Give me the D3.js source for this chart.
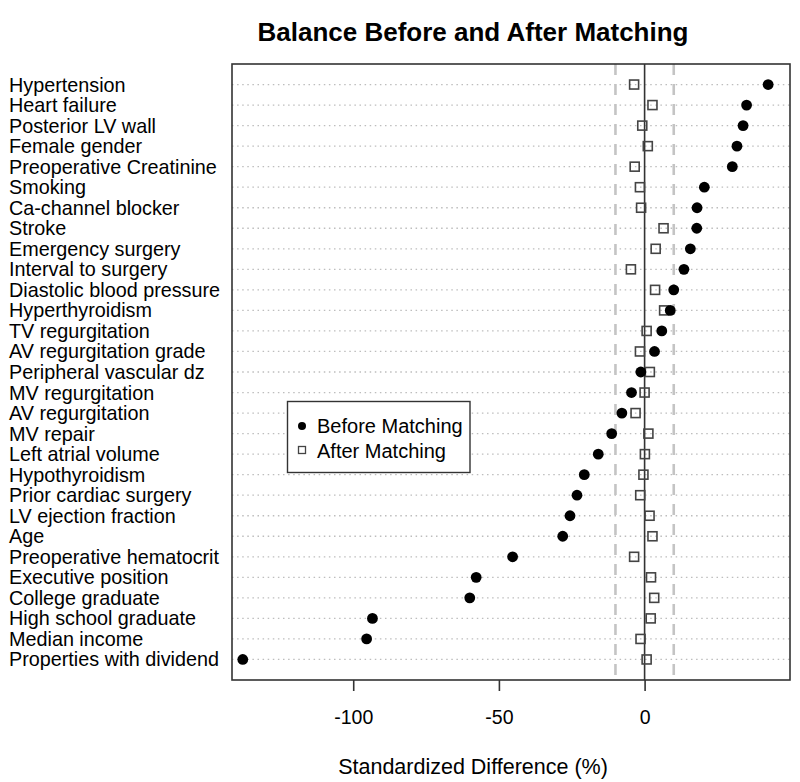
<!DOCTYPE html>
<html>
<head>
<meta charset="utf-8">
<script src="https://cdn.jsdelivr.net/npm/d3@7"></script>
<style>
  html, body { margin: 0; padding: 0; background: #fff; }
  svg { display: block; font-family: "Liberation Sans", Arial, Helvetica, sans-serif; }
</style>
</head>
<body>
<svg id="chart" width="800" height="782"></svg>
<script>
const title = "Balance Before and After Matching";
const xLabel = "Standardized Difference (%)";
const categories = [
  "Hypertension", "Heart failure", "Posterior LV wall", "Female gender",
  "Preoperative Creatinine", "Smoking", "Ca-channel blocker", "Stroke",
  "Emergency surgery", "Interval to surgery", "Diastolic blood pressure",
  "Hyperthyroidism", "TV regurgitation", "AV regurgitation grade",
  "Peripheral vascular dz", "MV regurgitation", "AV regurgitation", "MV repair",
  "Left atrial volume", "Hypothyroidism", "Prior cardiac surgery",
  "LV ejection fraction", "Age", "Preoperative hematocrit", "Executive position",
  "College graduate", "High school graduate", "Median income",
  "Properties with dividend"
];
const beforeMatching = [
  42.4, 35.0, 33.8, 31.7, 30.1, 20.5, 18.0, 17.9, 15.7, 13.5, 10.0, 8.8, 5.9, 3.4,
  -1.3, -4.5, -7.8, -11.3, -15.9, -20.7, -23.2, -25.6, -28.1, -45.3, -57.8, -60.0,
  -93.4, -95.4, -137.9
];
const afterMatching = [
  -3.6, 2.7, -0.8, 1.1, -3.4, -1.6, -1.2, 6.5, 3.8, -4.7, 3.6, 6.7, 0.7, -1.6,
  1.8, 0.0, -3.1, 1.3, 0.1, -0.4, -1.5, 1.7, 2.7, -3.6, 2.2, 3.3, 2.1, -1.4, 0.7
];
const xTicks = [-100, -50, 0];
const thresholds = [-10, 10];
const seriesNames = ["Before Matching", "After Matching"];

const svg = d3.select("#chart");
const box = { left: 232, right: 790, top: 64, bottom: 680 };

const x = d3.scaleLinear().domain([-141.6, 49.9]).range([box.left, box.right]);
const y = d3.scaleLinear().domain([-1, categories.length]).range([box.top, box.bottom]);

// Title
svg.append("text")
  .attr("x", 473).attr("y", 41)
  .attr("text-anchor", "middle")
  .attr("font-size", 26).attr("font-weight", "bold")
  .attr("fill", "#000")
  .text(title);

// dotted row lines
svg.append("g").selectAll("line").data(categories).join("line")
  .attr("x1", box.left).attr("x2", box.right)
  .attr("y1", (d, i) => y(i)).attr("y2", (d, i) => y(i))
  .attr("stroke", "#bdbdbd").attr("stroke-width", 1.3)
  .attr("stroke-dasharray", "1.5,3.6");

// threshold dashed lines
svg.append("g").selectAll("line").data(thresholds).join("line")
  .attr("x1", d => x(d)).attr("x2", d => x(d))
  .attr("y1", box.top).attr("y2", box.bottom)
  .attr("stroke", "#c4c4c4").attr("stroke-width", 2.6)
  .attr("stroke-dasharray", "11,9");

// zero line
svg.append("line")
  .attr("x1", x(0)).attr("x2", x(0))
  .attr("y1", box.top).attr("y2", box.bottom)
  .attr("stroke", "#333").attr("stroke-width", 1.6);

// category labels
svg.append("g").selectAll("text").data(categories).join("text")
  .attr("x", 9).attr("y", (d, i) => y(i) + 7)
  .attr("font-size", 19.8).attr("fill", "#000")
  .text(d => d);

// after matching squares
const sq = 9;
svg.append("g").selectAll("rect").data(afterMatching).join("rect")
  .attr("x", d => x(d) - sq / 2).attr("y", (d, i) => y(i) - sq / 2)
  .attr("width", sq).attr("height", sq)
  .attr("fill", "none").attr("stroke", "#444").attr("stroke-width", 1.6);

// before matching dots
svg.append("g").selectAll("circle").data(beforeMatching).join("circle")
  .attr("cx", d => x(d)).attr("cy", (d, i) => y(i))
  .attr("r", 5.4).attr("fill", "#000");

// box
svg.append("rect")
  .attr("x", box.left).attr("y", box.top)
  .attr("width", box.right - box.left).attr("height", box.bottom - box.top)
  .attr("fill", "none").attr("stroke", "#333").attr("stroke-width", 1.6);

// x axis
const xAxis = d3.axisBottom(x).tickValues(xTicks).tickSize(11).tickPadding(19)
  .tickFormat(d3.format("d"));
const ax = svg.append("g").attr("transform", `translate(0,${box.bottom})`).call(xAxis);
ax.select(".domain").remove();
ax.selectAll(".tick line").attr("stroke", "#333").attr("stroke-width", 1.6);
ax.selectAll(".tick text").attr("font-size", 19.5).attr("fill", "#000")
  .attr("font-family", "'Liberation Sans', Arial, sans-serif")
  .text(d => d < 0 ? "-" + Math.abs(d) : d);

// x label
svg.append("text")
  .attr("x", 473).attr("y", 774)
  .attr("text-anchor", "middle")
  .attr("font-size", 21.5).attr("fill", "#000")
  .text(xLabel);

// legend
const lg = svg.append("g");
lg.append("rect")
  .attr("x", 287.5).attr("y", 401.5).attr("width", 182.5).attr("height", 71)
  .attr("fill", "#fff").attr("stroke", "#333").attr("stroke-width", 1.4);
lg.append("circle").attr("cx", 302).attr("cy", 426).attr("r", 4).attr("fill", "#000");
lg.append("rect").attr("x", 298.5).attr("y", 446.5).attr("width", 7).attr("height", 7)
  .attr("fill", "none").attr("stroke", "#444").attr("stroke-width", 1.3);
lg.selectAll("text").data(seriesNames).join("text")
  .attr("x", 317).attr("y", (d, i) => 433 + i * 24.5)
  .attr("font-size", 20).attr("fill", "#000")
  .text(d => d);
</script>
</body>
</html>
